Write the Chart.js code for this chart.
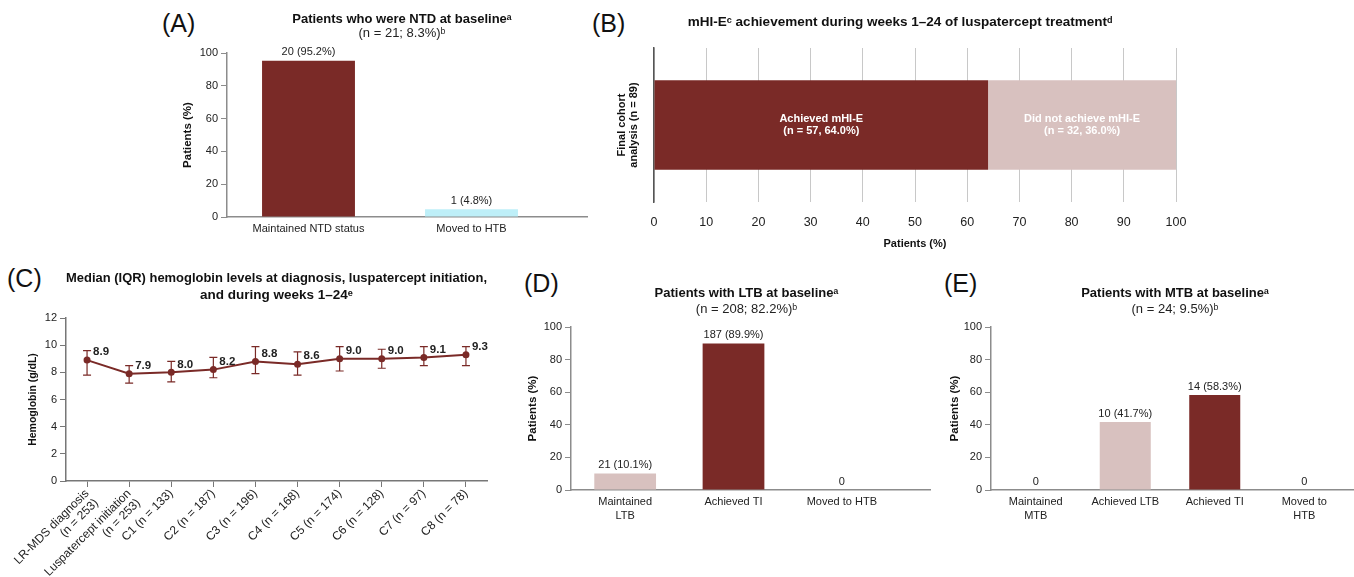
<!DOCTYPE html>
<html>
<head>
<meta charset="utf-8">
<script src="https://cdn.jsdelivr.net/npm/chart.js@4.4.1/dist/chart.umd.min.js"></script>
<style>
html,body{margin:0;padding:0;background:#fff;}
#wrap{position:relative;width:1354px;height:577px;overflow:hidden;background:#fff;font-family:'Liberation Sans',Arial,sans-serif;}
canvas{position:absolute;}
.plabel{position:absolute;font-size:25px;line-height:25px;color:#111;white-space:nowrap;}
</style>
</head>
<body>
<div id="wrap">
  <div class="plabel" style="left:162px;top:11px">(A)</div>
  <div class="plabel" style="left:592px;top:11px">(B)</div>
  <div class="plabel" style="left:7px;top:266px">(C)</div>
  <div class="plabel" style="left:524px;top:271px">(D)</div>
  <div class="plabel" style="left:944px;top:271px">(E)</div>
  <canvas id="cA" width="440" height="245" style="left:150px;top:0px;width:440px;height:245px"></canvas>
  <canvas id="cB" width="620" height="255" style="left:580px;top:0px;width:620px;height:255px"></canvas>
  <canvas id="cC" width="500" height="319" style="left:0px;top:258px;width:500px;height:319px"></canvas>
  <canvas id="cD" width="420" height="270" style="left:520px;top:270px;width:420px;height:270px"></canvas>
  <canvas id="cE" width="414" height="270" style="left:940px;top:270px;width:414px;height:270px"></canvas>
</div>
<script>
// ---------------- DATA ----------------
// Panel A
const titleA = 'Patients who were NTD at baselineᵃ';
const subA = '(n = 21; 8.3%)ᵇ';
const catsA = ['Maintained NTD status', 'Moved to HTB'];
const pctA = [95.2, 4.8];
const labelsA = ['20 (95.2%)', '1 (4.8%)'];

// Panel B
const titleB = 'mHI-Eᶜ achievement during weeks 1–24 of luspatercept treatmentᵈ';
const catsB = ['Final cohort analysis (n = 89)'];
const yTitleB = ['Final cohort', 'analysis (n = 89)'];
const seriesB = ['Achieved mHI-E', 'Did not achieve mHI-E'];
const achievedB = [64.0];
const notAchievedB = [36.0];
const innerB = [['Achieved mHI-E', '(n = 57, 64.0%)'], ['Did not achieve mHI-E', '(n = 32, 36.0%)']];
const ticksB = [0, 10, 20, 30, 40, 50, 60, 70, 80, 90, 100];

// Panel C
const titleC = ['Median (IQR) hemoglobin levels at diagnosis, luspatercept initiation,', 'and during weeks 1–24ᵉ'];
const catsC = [['LR-MDS diagnosis', '(n = 253)'], ['Luspatercept initiation', '(n = 253)'], 'C1 (n = 133)', 'C2 (n = 187)',
  'C3 (n = 196)', 'C4 (n = 168)', 'C5 (n = 174)', 'C6 (n = 128)', 'C7 (n = 97)', 'C8 (n = 78)'];
const medianC = [8.9, 7.9, 8.0, 8.2, 8.8, 8.6, 9.0, 9.0, 9.1, 9.3];
const q1C = [7.8, 7.2, 7.3, 7.6, 7.9, 7.8, 8.1, 8.3, 8.5, 8.5];
const q3C = [9.6, 8.5, 8.8, 9.1, 9.9, 9.5, 9.9, 9.7, 9.9, 9.9];

// Panel D
const titleD = 'Patients with LTB at baselineᵃ';
const subD = '(n = 208; 82.2%)ᵇ';
const catsD = [['Maintained', 'LTB'], 'Achieved TI', 'Moved to HTB'];
const pctD = [10.1, 89.9, 0];
const labelsD = ['21 (10.1%)', '187 (89.9%)', '0'];

// Panel E
const titleE = 'Patients with MTB at baselineᵃ';
const subE = '(n = 24; 9.5%)ᵇ';
const catsE = [['Maintained', 'MTB'], 'Achieved LTB', 'Achieved TI', ['Moved to', 'HTB']];
const pctE = [0, 41.7, 58.3, 0];
const labelsE = ['0', '10 (41.7%)', '14 (58.3%)', '0'];

// ---------------- STYLE ----------------
const DARK = '#7A2A27';
const PINK = '#D8C1BF';
const CYAN = '#BEEFF8';
const AXIS = '#8c8c8c';
const FONT = "'Liberation Sans', 'DejaVu Sans', Arial, sans-serif";
const colorsA = [DARK, CYAN];
const colorsD = [PINK, DARK, DARK];
const colorsE = [PINK, PINK, DARK, DARK];

Chart.defaults.font.family = FONT;
Chart.defaults.color = '#222';
Chart.defaults.animation = false;
Chart.defaults.responsive = false;
Chart.defaults.devicePixelRatio = 1;
Chart.defaults.plugins.legend.display = false;
Chart.defaults.plugins.tooltip.enabled = false;

// ---------------- PLUGINS ----------------
const adjustPlugin = {
  id: 'adjust',
  afterLayout(chart, args, opts) {
    if (opts && opts.xExtend && chart.scales.x) chart.scales.x.right += opts.xExtend;
    if (opts && opts.titleShift) {
      chart.boxes.forEach(b => {
        if (b.position === 'top' && !b.axis) { b.left += opts.titleShift; b.right += opts.titleShift; }
      });
    }
  }
};

const labelPlugin = {
  id: 'labels',
  afterDatasetsDraw(chart) {
    const ctx = chart.ctx;
    chart.data.datasets.forEach((ds, di) => {
      const meta = chart.getDatasetMeta(di);
      if (ds.topLabels) {
        ctx.save();
        ctx.font = '11px ' + FONT;
        ctx.fillStyle = '#222';
        ctx.textAlign = 'center';
        ctx.textBaseline = 'bottom';
        meta.data.forEach((bar, i) => ctx.fillText(ds.topLabels[i], bar.x, bar.y - 3));
        ctx.restore();
      }
      if (ds.innerLabels) {
        ctx.save();
        ctx.font = 'bold 11px ' + FONT;
        ctx.fillStyle = '#ffffff';
        ctx.textAlign = 'center';
        ctx.textBaseline = 'middle';
        meta.data.forEach(bar => {
          const cx = (bar.x + bar.base) / 2;
          const n = ds.innerLabels.length;
          ds.innerLabels.forEach((line, k) => ctx.fillText(line, cx, bar.y + (k - (n - 1) / 2) * 12));
        });
        ctx.restore();
      }
      if (ds.showValues) {
        ctx.save();
        ctx.font = 'bold 11.5px ' + FONT;
        ctx.fillStyle = '#222';
        ctx.textAlign = 'left';
        ctx.textBaseline = 'middle';
        meta.data.forEach((pt, i) => ctx.fillText(ds.data[i].toFixed(1), pt.x + 6, pt.y - 8));
        ctx.restore();
      }
    });
  }
};

const errorBarPlugin = {
  id: 'errorBars',
  beforeDatasetsDraw(chart) {
    const ctx = chart.ctx;
    const ys = chart.scales.y;
    chart.data.datasets.forEach((ds, di) => {
      if (!ds.q1 || !ds.q3) return;
      const meta = chart.getDatasetMeta(di);
      ctx.save();
      ctx.strokeStyle = ds.borderColor;
      ctx.lineWidth = 1.2;
      meta.data.forEach((pt, i) => {
        const lo = ys.getPixelForValue(ds.q1[i]);
        const hi = ys.getPixelForValue(ds.q3[i]);
        ctx.beginPath();
        ctx.moveTo(pt.x, lo); ctx.lineTo(pt.x, hi);
        ctx.moveTo(pt.x - 4, lo); ctx.lineTo(pt.x + 4, lo);
        ctx.moveTo(pt.x - 4, hi); ctx.lineTo(pt.x + 4, hi);
        ctx.stroke();
      });
      ctx.restore();
    });
  }
};

// ---------------- BAR PANELS (A, D, E) ----------------
function barPanel(id, cats, vals, lbls, colors, o) {
  return new Chart(document.getElementById(id), {
    type: 'bar',
    data: {
      labels: cats,
      datasets: [{ data: vals, backgroundColor: colors, topLabels: lbls, barPercentage: 0.57, categoryPercentage: 1, borderWidth: 0 }]
    },
    options: {
      layout: { padding: o.pad },
      plugins: {
        title: { display: true, text: o.title, fullSize: false, color: '#111',
          font: { size: 13, weight: 'bold', lineHeight: 1 }, padding: { top: o.tTop, bottom: 0 } },
        subtitle: { display: true, text: o.sub, fullSize: false, color: '#222',
          font: { size: 13, weight: 'normal', lineHeight: 1 }, padding: { top: o.sTop, bottom: o.sBot } },
        adjust: { xExtend: o.ext, titleShift: o.shift }
      },
      scales: {
        x: {
          grid: { display: false, drawTicks: false },
          border: { display: true, color: AXIS, width: 1.5 },
          ticks: { padding: 5, color: '#222', font: { size: 11, lineHeight: 1.25 }, maxRotation: 0, minRotation: 0, autoSkip: false },
          afterFit: s => { s.height = o.xH; }
        },
        y: {
          min: 0, max: 100,
          ticks: { stepSize: 20, padding: 3, color: '#222', font: { size: 11 } },
          grid: { display: true, drawOnChartArea: false, drawTicks: true, tickLength: 6, color: AXIS },
          border: { display: true, color: AXIS, width: 1.5 },
          title: { display: true, text: 'Patients (%)', color: '#111', font: { size: 11.5, weight: 'bold', lineHeight: 1.2 }, padding: { top: o.yT, bottom: 0 } },
          afterFit: s => { s.width = o.yW; }
        }
      }
    },
    plugins: [adjustPlugin, labelPlugin]
  });
}

barPanel('cA', catsA, pctA, labelsA, colorsA, {
  title: titleA, sub: subA, pad: { left: 20, right: 37, top: 0, bottom: 0 },
  tTop: 12.8, sTop: 1, sBot: 13.2, yW: 57, yT: 11, xH: 28, ext: 34, shift: 12
});
barPanel('cD', catsD, pctD, labelsD, colorsD, {
  title: titleD, sub: subD, pad: { left: 0, right: 44, top: 0, bottom: 0 },
  tTop: 16.5, sTop: 3, sBot: 11.5, yW: 51, yT: 5.6, xH: 50, ext: 34, shift: 13
});
barPanel('cE', catsE, pctE, labelsE, colorsE, {
  title: titleE, sub: subE, pad: { left: 0, right: 5, top: 0, bottom: 0 },
  tTop: 16.5, sTop: 3, sBot: 11.5, yW: 51, yT: 8.1, xH: 50, ext: 5, shift: 5
});

// ---------------- PANEL B ----------------
new Chart(document.getElementById('cB'), {
  type: 'bar',
  data: {
    labels: catsB,
    datasets: [
      { label: seriesB[0], data: achievedB, backgroundColor: DARK, innerLabels: innerB[0], borderWidth: 0 },
      { label: seriesB[1], data: notAchievedB, backgroundColor: PINK, innerLabels: innerB[1], borderWidth: 0 }
    ]
  },
  options: {
    indexAxis: 'y',
    layout: { padding: { left: 20, right: 24, top: 0, bottom: 3 } },
    datasets: { bar: { barPercentage: 1, categoryPercentage: 0.58 } },
    plugins: {
      title: { display: true, text: titleB, fullSize: false, color: '#111',
        font: { size: 13.5, weight: 'bold', lineHeight: 1 }, padding: { top: 16, bottom: 18.5 } },
      adjust: { titleShift: -15 }
    },
    scales: {
      x: {
        stacked: true, min: ticksB[0], max: ticksB[ticksB.length - 1],
        ticks: { stepSize: ticksB[1] - ticksB[0], padding: 13, color: '#222', font: { size: 12.5 } },
        grid: { color: '#c8c8c8', lineWidth: 1, drawTicks: false },
        border: { display: false },
        title: { display: true, text: 'Patients (%)', color: '#111', font: { size: 11, weight: 'bold' }, padding: { top: 0, bottom: 1 } },
        afterFit: s => { s.height = 50; }
      },
      y: {
        stacked: true,
        ticks: { display: false },
        grid: { display: false },
        border: { display: true, color: '#555', width: 1.5 },
        title: { display: true, text: yTitleB, color: '#111', font: { size: 11, weight: 'bold', lineHeight: 1.1 }, padding: { top: 16, bottom: 0 } },
        afterFit: s => { s.width = 54; }
      }
    }
  },
  plugins: [adjustPlugin, labelPlugin]
});

// ---------------- PANEL C ----------------
new Chart(document.getElementById('cC'), {
  type: 'line',
  data: {
    labels: catsC,
    datasets: [{
      data: medianC, q1: q1C, q3: q3C, showValues: true,
      borderColor: DARK, backgroundColor: DARK, borderWidth: 2, tension: 0,
      pointRadius: 3.5, pointBackgroundColor: DARK, pointBorderWidth: 0
    }]
  },
  options: {
    layout: { padding: { left: 10, right: 13, top: 0, bottom: 0 } },
    plugins: {
      title: { display: true, text: titleC, fullSize: false, color: '#111',
        font: { size: 13.5, weight: 'bold', lineHeight: 1.25 }, padding: { top: 11.5, bottom: 14.75 } }
    },
    scales: {
      x: {
        offset: true,
        grid: { display: true, offset: false, drawOnChartArea: false, drawTicks: true, tickLength: 6, color: '#777' },
        border: { display: true, color: '#777', width: 1.5 },
        ticks: { minRotation: 45, maxRotation: 45, autoSkip: false, padding: 0, color: '#222', font: { size: 12, lineHeight: 1.1 } },
        afterFit: s => { s.height = 96; }
      },
      y: {
        min: 0, max: 12,
        ticks: { stepSize: 2, padding: 3, color: '#222', font: { size: 11 } },
        grid: { display: true, drawOnChartArea: false, drawTicks: true, tickLength: 6, color: '#777' },
        border: { display: true, color: '#777', width: 1.5 },
        title: { display: true, text: 'Hemoglobin (g/dL)', color: '#111', font: { size: 10.5, weight: 'bold', lineHeight: 1.2 }, padding: { top: 17, bottom: 0 } },
        afterFit: s => { s.width = 56; }
      }
    }
  },
  plugins: [errorBarPlugin, labelPlugin]
});
</script>
</body>
</html>
